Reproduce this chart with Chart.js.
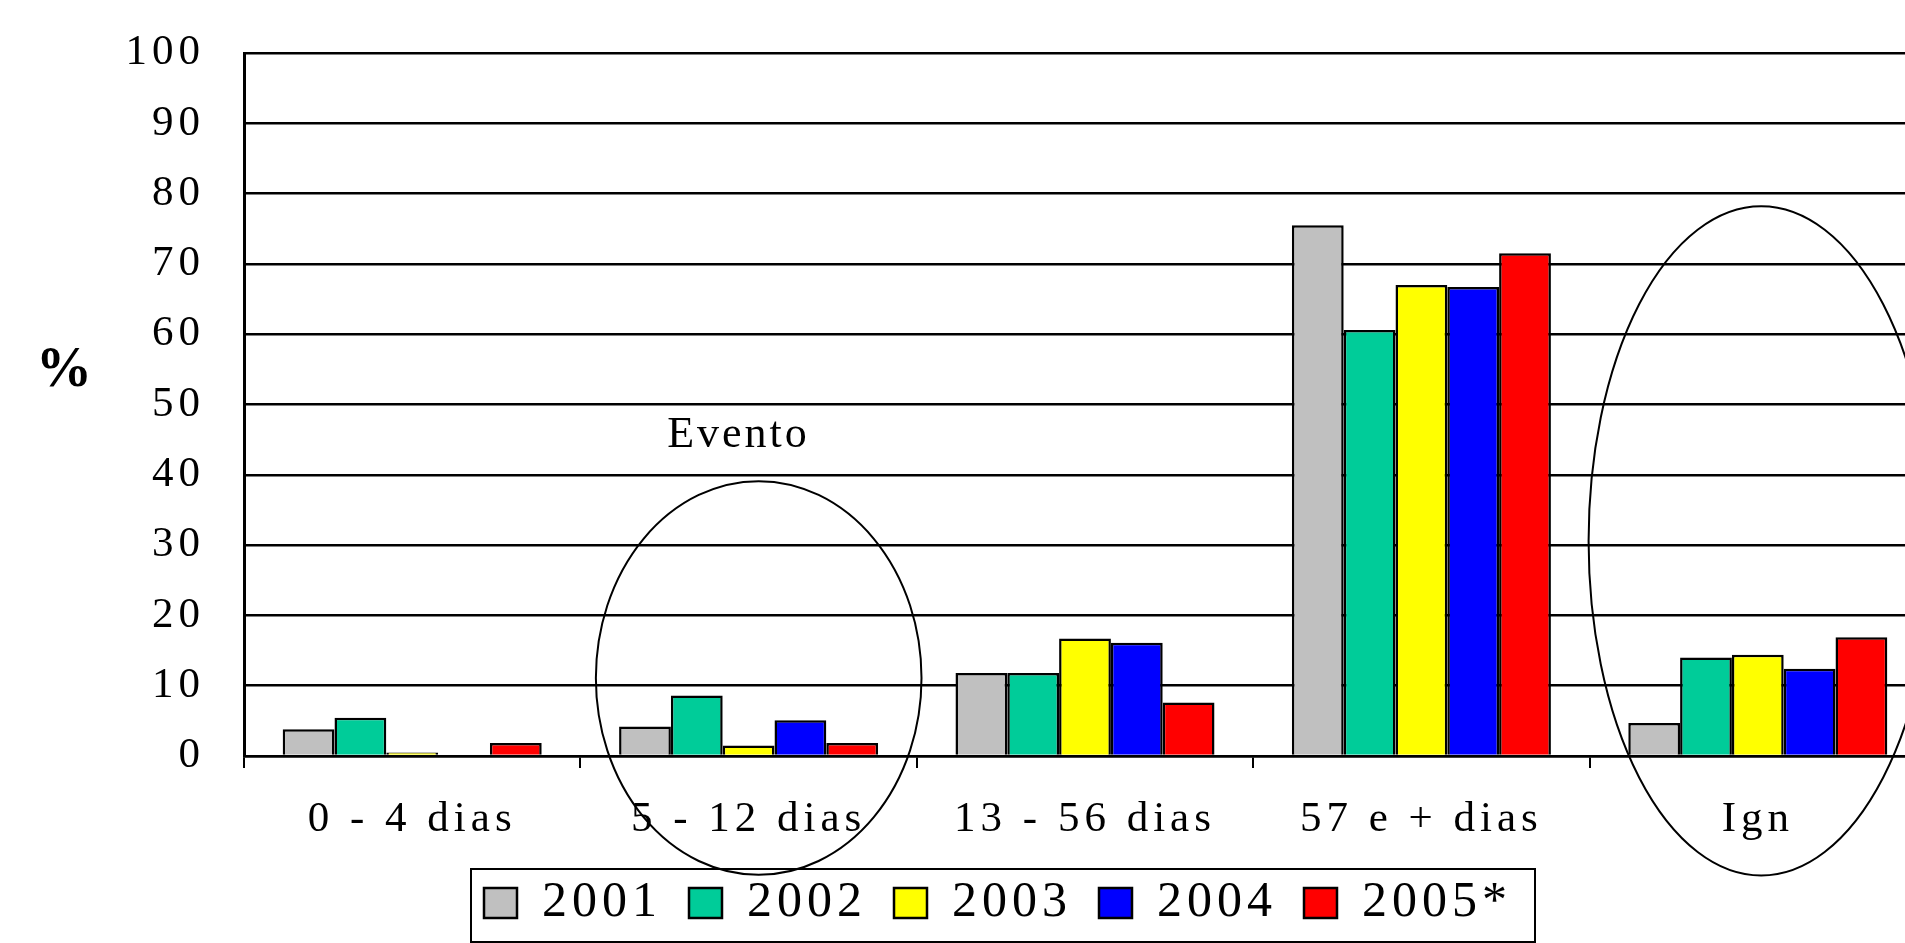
<!DOCTYPE html>
<html>
<head>
<meta charset="utf-8">
<script src="https://cdn.jsdelivr.net/npm/chart.js@4/dist/chart.umd.min.js"></script>
<style>
  html, body { margin: 0; padding: 0; background: #fff; overflow: hidden; }
  canvas { display: block; }
</style>
</head>
<body>
<canvas id="periodChart" width="1930" height="943"></canvas>
<script>
// dados
const categories = ["0 - 4 dias", "5 - 12 dias", "13 - 56 dias", "57 e + dias", "Ign"];
const years = ["2001", "2002", "2003", "2004", "2005*"];
const values2001 = [3.8, 4.2, 11.8, 75.5, 4.7];
const values2002 = [5.45, 8.6, 11.8, 60.6, 14.0];
const values2003 = [0.5, 1.5, 16.7, 67.0, 14.4];
const values2004 = [0, 5.1, 16.1, 66.7, 12.4];
const values2005 = [1.85, 1.85, 7.6, 71.5, 16.9];
const yTicks = [0, 10, 20, 30, 40, 50, 60, 70, 80, 90, 100];

// elipses de destaque (posição em categoria / valor)
const ellipseAt = [1.03, 4.01];
const ellipseMid = [11.1, 30.6];
const ellipseHalfHeight = [28, 47.6];
const ellipseHalfWidth = [0.484, 0.513];
const noteText = "Evento";
const noteAt = [0.97, 45.6];

const colors = ["#C0C0C0", "#00CC99", "#FFFF00", "#0000FF", "#FF0000"];
const FONT = "'Liberation Serif', 'Times New Roman', serif";
const LETTER_SPACING = "5px";
const PAD_LEFT = 70;

const seriesValues = [values2001, values2002, values2003, values2004, values2005];

const spacingPlugin = {
  id: "spacing",
  beforeLayout(chart) { chart.ctx.letterSpacing = LETTER_SPACING; },
  beforeDraw(chart) { chart.ctx.letterSpacing = LETTER_SPACING; }
};

const extrasPlugin = {
  id: "extras",
  afterDraw(chart) {
    const ctx = chart.ctx;
    const xs = chart.scales.x;
    const ys = chart.scales.y;
    const catW = xs.getPixelForValue(1) - xs.getPixelForValue(0);

    ctx.save();
    // moldura da legenda
    const hb = chart.legend.legendHitBoxes;
    const first = hb[0];
    const last = hb[hb.length - 1];
    ctx.strokeStyle = "#000";
    ctx.lineWidth = 2;
    const left = first.left - 13;
    const right = last.left + last.width + 23;
    ctx.strokeRect(left, first.top - 9, right - left, 73);

    // elipses
    ctx.lineWidth = 2;
    for (let i = 0; i < ellipseAt.length; i++) {
      const cx = xs.getPixelForValue(ellipseAt[i]);
      const cy = ys.getPixelForValue(ellipseMid[i]);
      const ry = ys.getPixelForValue(0) - ys.getPixelForValue(ellipseHalfHeight[i]);
      const rx = ellipseHalfWidth[i] * catW;
      ctx.beginPath();
      ctx.ellipse(cx, cy, rx, ry, 0, 0, Math.PI * 2);
      ctx.stroke();
    }

    // textos
    ctx.fillStyle = "#000";
    ctx.textAlign = "center";
    ctx.textBaseline = "middle";
    ctx.letterSpacing = "3px";
    ctx.font = `44px ${FONT}`;
    ctx.fillText(noteText, xs.getPixelForValue(noteAt[0]), ys.getPixelForValue(noteAt[1]));

    ctx.letterSpacing = "0px";
    ctx.font = `bold 56px ${FONT}`;
    ctx.fillText("%", 64, 372);
    ctx.restore();
  }
};

const ctx = document.getElementById("periodChart").getContext("2d");

const datasets = years.map((year, i) => ({
  label: year,
  data: seriesValues[i],
  backgroundColor: colors[i],
  borderColor: "#000",
  borderWidth: 2.5,
  categoryPercentage: 0.77,
  barPercentage: 1.0
}));

new Chart(ctx, {
  type: "bar",
  data: { labels: categories, datasets: datasets },
  plugins: [spacingPlugin, extrasPlugin],
  options: {
    responsive: false,
    animation: false,
    devicePixelRatio: 1,
    layout: { padding: { top: 53, left: PAD_LEFT, right: 4, bottom: 5 } },
    scales: {
      x: {
        afterFit: (scale) => { scale.height = 95; },
        grid: {
          display: true,
          drawOnChartArea: false,
          drawTicks: true,
          tickLength: 12,
          offset: true,
          color: "#000",
          lineWidth: 2
        },
        border: { display: true, color: "#000", width: 2.5 },
        ticks: {
          color: "#000",
          font: { family: FONT, size: 43 },
          padding: 26,
          maxRotation: 0
        }
      },
      y: {
        min: 0,
        max: 100,
        afterFit: (scale) => { scale.width = 244 - PAD_LEFT; },
        afterBuildTicks: (scale) => { scale.ticks = yTicks.map(v => ({ value: v })); },
        grid: {
          color: "#000",
          lineWidth: 2.5,
          drawTicks: true,
          tickLength: 39,
          tickColor: "rgba(0,0,0,0)"
        },
        border: { display: true, color: "#000", width: 3 },
        ticks: {
          color: "#000",
          font: { family: FONT, size: 43 },
          padding: 0
        }
      }
    },
    plugins: {
      legend: {
        position: "bottom",
        labels: {
          color: "#000",
          font: { family: FONT, size: 50 },
          boxWidth: 33,
          boxHeight: 30,
          padding: 27
        }
      },
      tooltip: { enabled: false }
    }
  }
});
</script>
</body>
</html>
